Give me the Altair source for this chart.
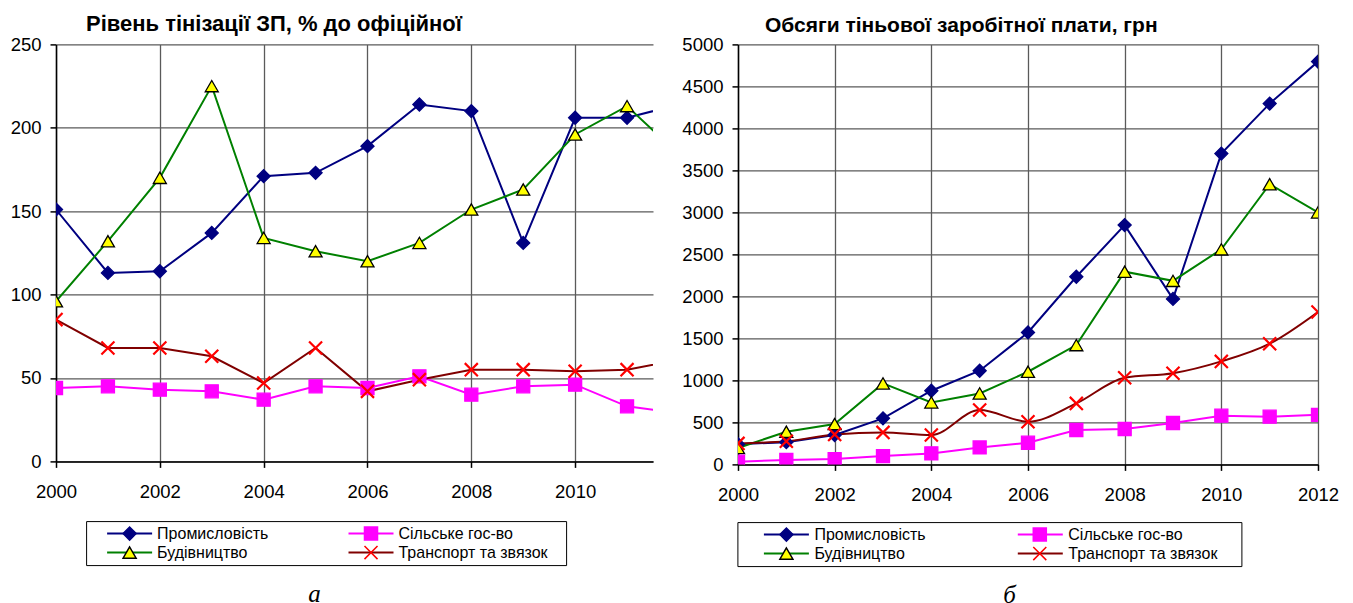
import altair as alt
import pandas as pd

years = list(range(2000, 2013))
# legend order (column-major fill): Промисловість, Будівництво | Сільське гос-во, Транспорт та звязок
series_names = ["Промисловість", "Будівництво", "Сільське гос-во", "Транспорт та звязок"]

# Left panel: level of shadow wages, % of official
lvl_industry = [151, 113, 114, 137, 171, 173, 189, 214, 210, 131, 206, 206, 214]
lvl_constr = [96, 132, 170, 225, 134, 126, 120, 131, 151, 163, 196, 213, 184]
lvl_agri = [44, 45, 43, 42, 37, 45, 44, 51, 40, 45, 46, 33, 29]
lvl_transport = [85, 68, 68, 63, 47, 68, 42, 49, 55, 55, 54, 55, 61]

# Right panel: volume of shadow wages, UAH
vol_industry = [240, 265, 350, 548, 877, 1115, 1571, 2234, 2849, 1970, 3700, 4295, 4795]
vol_constr = [195, 389, 480, 964, 738, 845, 1103, 1420, 2294, 2185, 2560, 3335, 3000]
vol_agri = [32, 52, 63, 99, 131, 202, 258, 409, 421, 493, 580, 568, 590]
vol_transport = [250, 275, 357, 381, 349, 647, 508, 726, 1032, 1085, 1226, 1437, 1815]

left_title = "Рівень тінізації ЗП, % до офіційної"
right_title = "Обсяги тіньової заробітної плати, грн"
left_caption = "а"
right_caption = "б"

left_x_ticks = [2000, 2002, 2004, 2006, 2008, 2010]
right_x_ticks = [2000, 2002, 2004, 2006, 2008, 2010, 2012]
left_y_ticks = [0, 50, 100, 150, 200, 250]
right_y_ticks = [0, 500, 1000, 1500, 2000, 2500, 3000, 3500, 4000, 4500, 5000]

line_colors = ["#000080", "#008000", "#FF00FF", "#800000"]
marker_fill = ["#000080", "#FFFF00", "#FF00FF", "transparent"]
marker_stroke = ["#000080", "#000000", "#FF00FF", "#FF0000"]
marker_shapes = ["diamond", "triangle-up", "square", "M-1,-1L1,1M-1,1L1,-1"]
TRANSPORT = series_names[3]
point_names = [n + " " for n in series_names]

FONT = "Liberation Sans"


def long_df(arrays):
    rows = []
    for name, arr in zip(series_names, arrays):
        for yr, v in zip(years, arr):
            rows.append({"year": yr, "value": v, "series": name, "series_p": name + " "})
    return pd.DataFrame(rows)


def panel(df, xdom, xvals, ydom, yvals, title, title_dx, title_size, caption, cap_x, cap_y,
          w, h, lx, ly, soL, loL, cpL, soP, loP, cpP, transport_interp):
    x = alt.X("year:Q",
              scale=alt.Scale(domain=xdom, nice=False, zero=False),
              axis=alt.Axis(values=xvals, format="d", labelPadding=15, labelFlush=False,
                            title=caption, titleX=cap_x, titleY=cap_y,
                            titleFont="Liberation Serif", titleFontStyle="italic",
                            titleFontWeight="normal", titleFontSize=25,
                            titleColor="#000", titleAlign="center",
                            titleBaseline="alphabetic"))
    y = alt.Y("value:Q",
              scale=alt.Scale(domain=ydom, nice=False),
              axis=alt.Axis(values=yvals, format="d", labelPadding=9, title=None))

    common_leg = dict(orient="none", legendX=lx, legendY=ly, columns=2, title=None,
                      rowPadding=2, padding=4, clipHeight=17, labelFont=FONT,
                      labelFontSize=16, labelColor="#000", labelLimit=0)
    line_leg = alt.Legend(symbolType="stroke", symbolSize=2025, symbolStrokeWidth=2,
                          symbolOffset=soL, labelOffset=loL, columnPadding=cpL,
                          **common_leg)
    pt_leg = alt.Legend(symbolSize=170, symbolStrokeWidth=1.5, symbolOffset=soP,
                        labelOffset=loP, columnPadding=cpP, labelOpacity=0,
                        labelExpr="trim(datum.label)",
                        strokeColor="#000000", **common_leg)

    color = alt.Color("series:N", scale=alt.Scale(domain=series_names, range=line_colors),
                      legend=line_leg)
    fill = alt.Fill("series_p:N", scale=alt.Scale(domain=point_names, range=marker_fill),
                    legend=pt_leg)
    stroke = alt.Stroke("series_p:N", scale=alt.Scale(domain=point_names, range=marker_stroke),
                        legend=pt_leg)
    shape = alt.Shape("series_p:N", scale=alt.Scale(domain=point_names, range=marker_shapes),
                      legend=pt_leg)

    base = alt.Chart(df)
    straight = base.transform_filter(alt.datum.series != TRANSPORT).mark_line(
        strokeWidth=2, clip=True).encode(x=x, y=y, color=color)
    smooth = base.transform_filter(alt.datum.series == TRANSPORT).mark_line(
        strokeWidth=2, clip=True, interpolate=transport_interp).encode(x=x, y=y, color=color)
    pts = base.transform_filter(alt.datum.series != TRANSPORT).mark_point(
        filled=True, opacity=1, size=170, strokeWidth=1.3, clip=True).encode(
        x=x, y=y, fill=fill, stroke=stroke, shape=shape)
    xpts = base.transform_filter(alt.datum.series == TRANSPORT).mark_point(
        filled=True, opacity=1, size=170, strokeWidth=2.2, clip=True).encode(
        x=x, y=y, fill=fill, stroke=stroke, shape=shape)

    return alt.layer(straight, smooth, pts, xpts).properties(
        width=w, height=h,
        title=alt.TitleParams(title, anchor="start", frame="group", dx=title_dx, offset=-1,
                              font=FONT, fontSize=title_size, fontWeight="bold", color="#000"))


left = panel(long_df([lvl_industry, lvl_constr, lvl_agri, lvl_transport]),
             [2000, 2011.5], left_x_ticks, [0, 250], left_y_ticks,
             left_title, 30, 22, left_caption, 258, 140, 597, 417,
             30.1, 476.7, 16, 4, 62.4, 31.5, 33.5, 48.4, "linear")

right = panel(long_df([vol_industry, vol_constr, vol_agri, vol_transport]),
              [2000, 2012], right_x_ticks, [0, 5000], right_y_ticks,
              right_title, 27, 21, right_caption, 271, 138, 580, 420,
              -0.6, 477.7, 21.5, 4.5, 68.9, 37, 39.5, 49.4, "monotone")

chart = alt.hconcat(left, right, spacing=28).resolve_scale(
    color="independent", fill="independent", stroke="independent", shape="independent"
).resolve_legend(
    color="independent", fill="independent", stroke="independent", shape="independent"
).properties(
    padding={"left": 2, "top": 5.4, "right": 0, "bottom": -3}
).configure_view(stroke=None).configure_axis(
    labelFont=FONT, labelFontSize=18.5, labelColor="#000",
    domainColor="#000", domainWidth=1.5, tickColor="#000", tickWidth=1.5, tickSize=6,
    gridColor="#5a5a5a", gridWidth=1.3
)

chart.save("out.html", embed_options={"renderer": "svg", "actions": False})
